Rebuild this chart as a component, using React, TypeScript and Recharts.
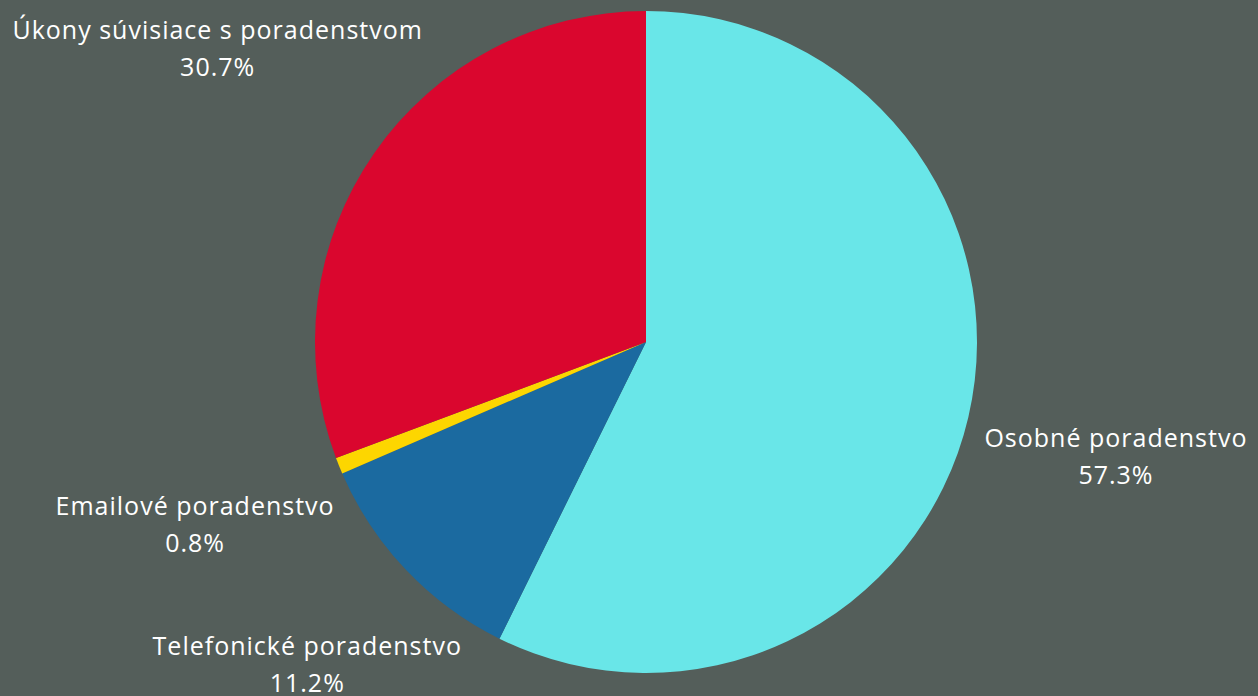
import { PieChart, Pie, Cell } from "recharts";

const categories = [
  "Osobné poradenstvo",
  "Telefonické poradenstvo",
  "Emailové poradenstvo",
  "Úkony súvisiace s poradenstvom",
];
const shares = [57.3, 11.2, 0.8, 30.7];
const colors = ["#69e6e8", "#1b6aa0", "#fdd600", "#da062e"];

const data = categories.map((name, i) => ({ name, value: shares[i] }));

// layout nudges for the outside labels (collision avoidance of the original)
const labelShift = [
  { dx: 133, dy: 17 },
  { dx: -88, dy: 66 },
  { dx: -130, dy: 35 },
  { dx: -144, dy: -115 },
];

const RADIAN = Math.PI / 180;

function renderLabel(props: any) {
  const { cx, cy, midAngle, outerRadius, index, name, value } = props;
  const r = outerRadius + 15;
  const x = cx + r * Math.cos(-midAngle * RADIAN) + labelShift[index].dx;
  const y = cy + r * Math.sin(-midAngle * RADIAN) + labelShift[index].dy;
  return (
    <text
      x={x}
      y={y}
      fill="#ffffff"
      textAnchor="middle"
      style={{ fontFamily: "'Open Sans', sans-serif", fontSize: 25, letterSpacing: 1 }}
    >
      <tspan x={x} y={y + 9}>
        {name}
      </tspan>
      <tspan x={x} y={y + 46}>
        {value.toFixed(1)}%
      </tspan>
    </text>
  );
}

export default function App() {
  return (
    <div
      style={{
        position: "fixed",
        left: 0,
        top: 0,
        width: 1258,
        height: 696,
        background: "#545e5a",
      }}
    >
      <PieChart width={1258} height={696} margin={{ top: 0, right: 0, bottom: 0, left: 0 }}>
        <Pie
          data={data}
          dataKey="value"
          nameKey="name"
          cx={646}
          cy={342}
          outerRadius={331}
          startAngle={90}
          endAngle={-270}
          stroke="none"
          label={renderLabel}
          labelLine={false}
          isAnimationActive={false}
        >
          {data.map((d, i) => (
            <Cell key={d.name} fill={colors[i]} />
          ))}
        </Pie>
      </PieChart>
    </div>
  );
}
